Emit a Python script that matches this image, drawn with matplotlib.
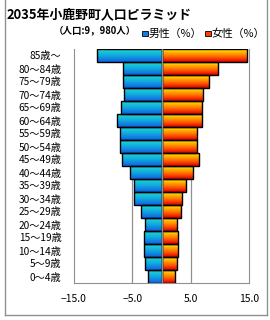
import numpy as np
import matplotlib
matplotlib.use("Agg")
import matplotlib.pyplot as plt
from matplotlib.colors import LinearSegmentedColormap
from matplotlib.patches import Rectangle
from matplotlib.lines import Line2D

plt.rcParams['font.family'] = ['Noto Sans CJK JP', 'DejaVu Sans']

ages = ["0～4歳", "5～9歳", "10～14歳", "15～19歳", "20～24歳", "25～29歳",
        "30～34歳", "35～39歳", "40～44歳", "45～49歳", "50～54歳", "55～59歳",
        "60～64歳", "65～69歳", "70～74歳", "75～79歳", "80～84歳", "85歳～"]
male = [2.3, 2.8, 3.0, 3.0, 2.8, 3.5, 4.7, 4.8, 5.4, 6.8, 7.2, 7.2,
        7.7, 7.0, 6.5, 6.6, 6.6, 11.1]
female = [2.3, 2.6, 2.8, 2.8, 2.7, 3.3, 3.5, 4.2, 5.4, 6.4, 6.1, 6.1,
          6.9, 6.9, 7.1, 8.1, 9.7, 14.6]
xticks = [-15, -5, 5, 15]

cm_male = LinearSegmentedColormap.from_list("m", ["#1060e0", "#10a8e0", "#20d8d0"])
cm_female = LinearSegmentedColormap.from_list("f", ["#d80000", "#ff5000", "#ffa000", "#ffe800"])

fig = plt.figure(figsize=(2.7, 3.2), dpi=100)
ax = fig.add_axes([74 / 270, 1 - 283 / 320, 175 / 270, 234 / 320])

y = np.arange(len(ages))
grad = np.linspace(0, 1, 64).reshape(-1, 1)

def gradient_bars(vals, cmap):
    bars = ax.barh(y, vals, height=0.97, color="none", edgecolor="black", linewidth=1.0, zorder=3)
    for b in bars:
        x0, y0 = b.get_x(), b.get_y()
        w, h = b.get_width(), b.get_height()
        im = ax.imshow(grad, cmap=cmap, origin="lower", aspect="auto",
                       extent=[min(x0, x0 + w), max(x0, x0 + w), y0, y0 + h], zorder=2)
        im.set_clip_path(b)
    return bars

gradient_bars([-v for v in male], cm_male)
gradient_bars(female, cm_female)

ax.set_xlim(-15, 15)
ax.set_ylim(-0.5, len(ages) - 0.5)
ax.axvline(0, color="#909090", lw=1.0, zorder=4)
for gx in [-5, 5]:
    ax.axvline(gx, color="#909090", lw=0.9, zorder=1)

ax.set_yticks(y)
ax.set_yticklabels(ages, fontsize=7.3)
ax.set_xticks(xticks)
ax.set_xticklabels(["−15.0", "−5.0", "5.0", "15.0"], fontsize=7.5)
ax.tick_params(axis="both", length=0)
ax.tick_params(axis="y", pad=9)
ax.tick_params(axis="x", pad=8)
for s in ["left", "right", "bottom"]:
    ax.spines[s].set_color("#909090")
ax.spines["top"].set_visible(False)

fig.text(7 / 270, 1 - 14 / 320, "2035年小鹿野町人口ピラミッド", fontsize=9.3, fontweight="bold", va="center")
fig.text(54 / 270, 1 - 30 / 320, "（人口:9，980人）", fontsize=6.8, fontweight="bold", va="center")

fig.patches.append(Rectangle((142 / 270, 1 - 36 / 320), 6 / 270, 5 / 320, transform=fig.transFigure,
                             facecolor="#1080e0", edgecolor="black", lw=0.6))
fig.text(149 / 270, 1 - 34 / 320, "男性（%）", fontsize=7.8, va="center")
fig.patches.append(Rectangle((205 / 270, 1 - 36 / 320), 6 / 270, 5 / 320, transform=fig.transFigure,
                             facecolor="#ff4000", edgecolor="black", lw=0.6))
fig.text(212 / 270, 1 - 34 / 320, "女性（%）", fontsize=7.8, va="center")

# outer frame
for xs, ys in [([5, 5], [0, 315]), ([267, 267], [0, 315]), ([5, 267], [315, 315])]:
    fig.lines.append(Line2D([v / 270 for v in xs], [1 - v / 320 for v in ys],
                            transform=fig.transFigure, color="#909090", lw=1.0))

fig.savefig("out.png", dpi=100)
